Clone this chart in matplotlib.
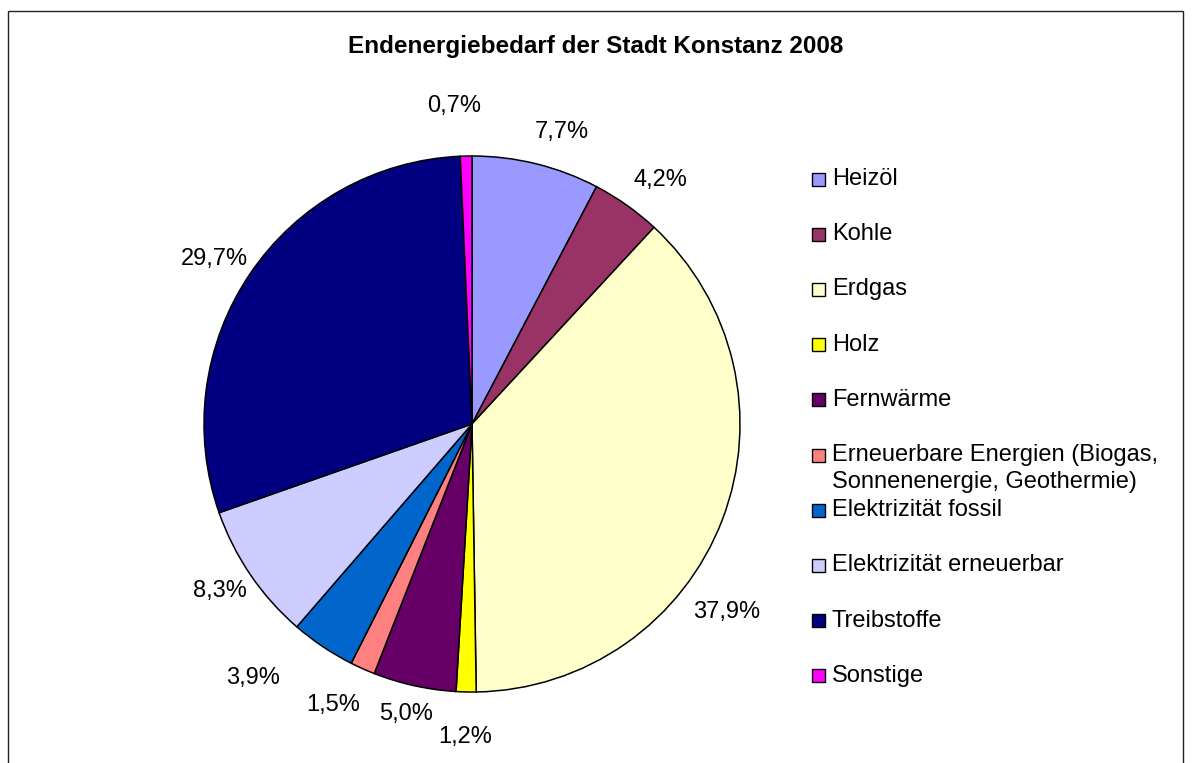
# -*- coding: UTF-8 -*-
import numpy
import matplotlib
matplotlib.use('Agg')
import matplotlib.pyplot as plt
from matplotlib.patches import Rectangle

################################################################################
# Endenergiebedarf der Stadt Konstanz 2008 (Kreisdiagramm)
################################################################################

categories = ['Heizöl',
              'Kohle',
              'Erdgas',
              'Holz',
              'Fernwärme',
              'Erneuerbare Energien (Biogas,\nSonnenenergie, Geothermie)',
              'Elektrizität fossil',
              'Elektrizität erneuerbar',
              'Treibstoffe',
              'Sonstige']
shares = [7.7, 4.2, 37.9, 1.2, 5.0, 1.5, 3.9, 8.3, 29.7, 0.7]
colors = ['#9999FF', '#993366', '#FFFFCC', '#FFFF00', '#660066',
          '#FF8080', '#0066CC', '#CCCCFF', '#000080', '#FF00FF']

title = 'Endenergiebedarf der Stadt Konstanz 2008'

plt.rcParams['font.family'] = ['Liberation Sans', 'DejaVu Sans']

W, H = 1192, 763
fig = plt.figure(figsize=(W / 100, H / 100), dpi=100)

# Rahmen
fig.patches.append(Rectangle((8 / W, -0.05), 1175 / W, 1.05 - 11 / H,
                             transform=fig.transFigure, fill=False,
                             edgecolor='#222222', linewidth=1.0))

fig.text(596 / W, 1 - 47 / H, title, ha='center', va='center',
         fontsize=17.5, fontweight='bold')

# Kreis
cx, cy, r = 472, 424, 268
ax = fig.add_axes([(cx - r) / W, (H - cy - r) / H, 2 * r / W, 2 * r / H])
labels = [('%.1f%%' % v).replace('.', ',') for v in shares]
wedges, texts = ax.pie(shares, colors=colors, startangle=90, counterclock=False,
                       labels=labels, labeldistance=1.15,
                       wedgeprops=dict(edgecolor='black', linewidth=1.1),
                       textprops=dict(fontsize=17))
ax.set_xlim(-1, 1)
ax.set_ylim(-1, 1)
ax.set_aspect('equal')
ax.axis('off')

# Lage der Beschriftungen wie im Original (Winkelversatz, Abstand)
label_angle = [-3.3, -2.4, -15.5, 0.0, -0.4, -2.1, -7.0, -0.7, 1.4, 2.0]
label_dist = [1.14, 1.15, 1.18, 1.17, 1.11, 1.17, 1.25, 1.13, 1.14, 1.19]
for w, t, da, d in zip(wedges, texts, label_angle, label_dist):
    a = numpy.deg2rad(0.5 * (w.theta1 + w.theta2) + da)
    t.set_position((d * numpy.cos(a), d * numpy.sin(a)))
    t.set_ha('center')
    t.set_va('center')

# Legende
lx, ly0, step = 812, 179, 55.2
sq = 13
for i, (name, c) in enumerate(zip(categories, colors)):
    y = ly0 + i * step
    fig.patches.append(Rectangle((lx / W, 1 - (y + sq / 2) / H), sq / W, sq / H,
                                 transform=fig.transFigure, facecolor=c,
                                 edgecolor='black', linewidth=1.0))
    fig.text((lx + sq + 7) / W, 1 - (y - 11) / H, name, ha='left', va='top',
             fontsize=17, linespacing=1.3)

fig.savefig('out.png', dpi=100)
plt.close()
